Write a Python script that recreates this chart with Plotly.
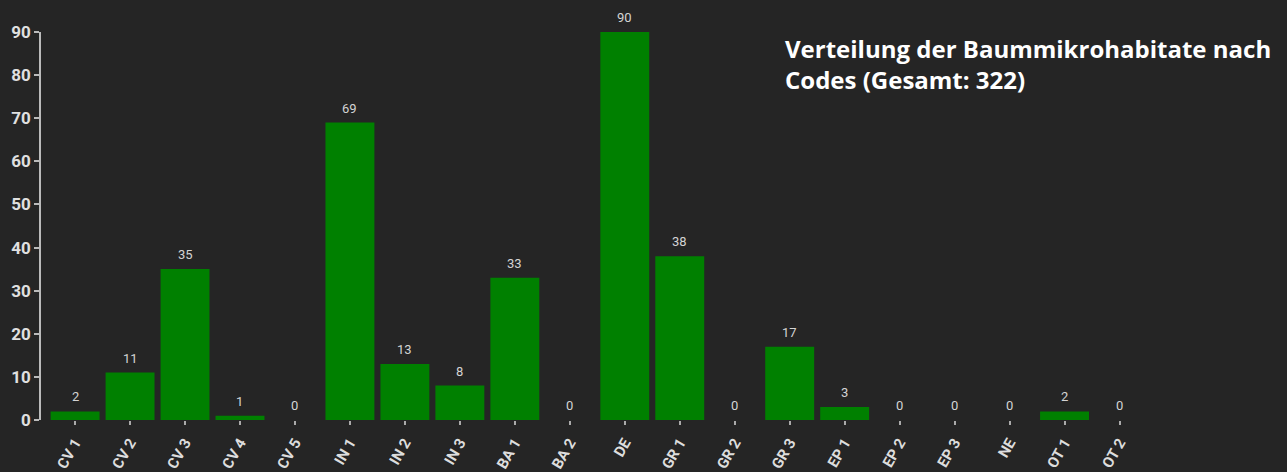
import plotly.graph_objects as go

categories = ["CV 1", "CV 2", "CV 3", "CV 4", "CV 5", "IN 1", "IN 2", "IN 3", "BA 1", "BA 2",
              "DE", "GR 1", "GR 2", "GR 3", "EP 1", "EP 2", "EP 3", "NE", "OT 1", "OT 2"]
values = [2, 11, 35, 1, 0, 69, 13, 8, 33, 0, 90, 38, 0, 17, 3, 0, 0, 0, 2, 0]
title_text = "Verteilung der Baummikrohabitate nach<br>Codes (Gesamt: 322)"

bg = "#252525"

fig = go.Figure()
fig.add_trace(go.Bar(
    x=categories, y=values, marker=dict(color="#008000", line=dict(width=0)),
    width=0.89, hoverinfo="x+y",
))

annotations = [dict(
    x=c, y=v, xref="x", yref="y", text=str(v), showarrow=False,
    yanchor="bottom", yshift=5,
    font=dict(family="Roboto", size=13, color="#d4d4d4"),
) for c, v in zip(categories, values)]

annotations.append(dict(
    text=title_text, xref="paper", yref="paper", x=0.671, y=1.005,
    xanchor="left", yanchor="top", align="left", showarrow=False,
    font=dict(family="Open Sans", size=24, color="#ffffff", weight="bold"),
))

fig.update_layout(
    width=1287, height=472,
    paper_bgcolor=bg, plot_bgcolor=bg,
    margin=dict(l=41, r=140, t=32, b=52),
    showlegend=False,
    xaxis=dict(
        range=[-0.62, 19.5], showgrid=False, zeroline=False, showline=False,
        ticks="outside", ticklen=4, tickwidth=2, tickcolor="#aaaaaa",
        tickangle=-60, ticklabelstandoff=3,
        tickfont=dict(family="Roboto", size=15, color="#dddddd", weight="bold"),
        fixedrange=True, automargin=False,
    ),
    yaxis=dict(
        range=[0, 90], dtick=10, showgrid=False, zeroline=False,
        showline=True, linecolor="#bbbbbb", linewidth=1.5,
        ticks="outside", ticklen=5, tickwidth=1.5, tickcolor="#bbbbbb",
        tickfont=dict(family="Roboto", size=17, color="#e0e0e0", weight="bold"),
        fixedrange=True, automargin=False,
    ),
    annotations=annotations,
)

fig.write_html("out.html", config={"displayModeBar": False},
               post_script="document.body.style.margin='0';")
